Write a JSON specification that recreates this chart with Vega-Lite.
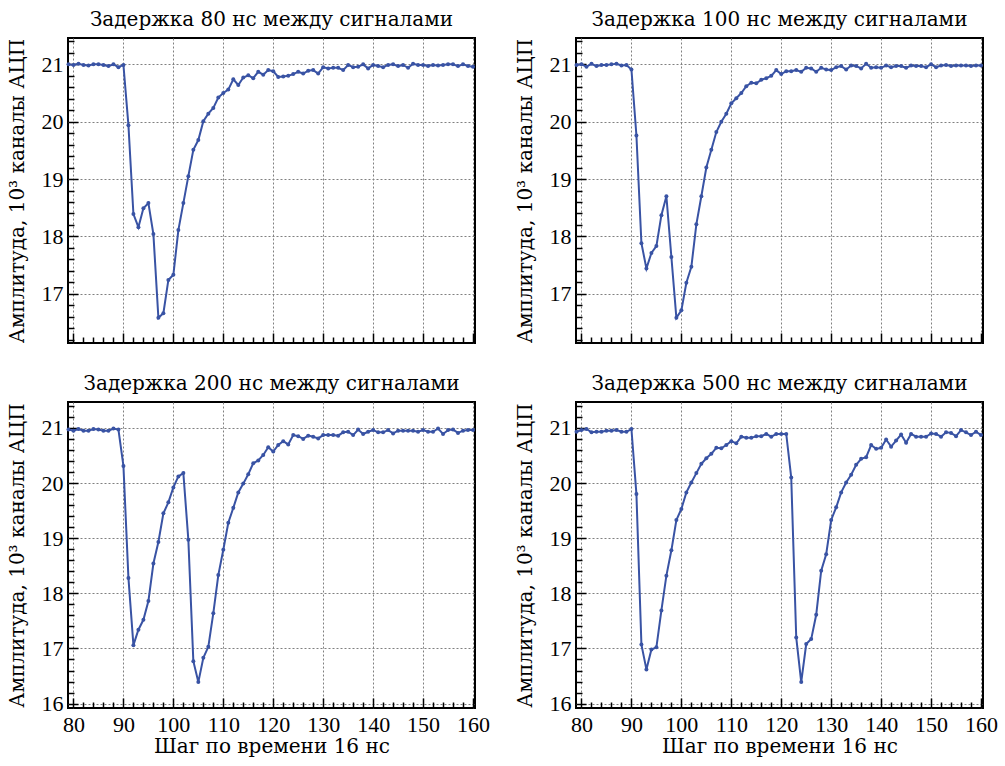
{
  "$schema": "https://vega.github.io/schema/vega-lite/v6.json",
  "background": "white",
  "padding": {"left": 6, "top": 9, "right": 4, "bottom": 5},
  "datasets": {
    "p80": [
      {"x":79,"y":21.00},{"x":80,"y":20.99},{"x":81,"y":21.01},{"x":82,"y":20.99},{"x":83,"y":20.98},{"x":84,"y":21.00},{"x":85,"y":21.00},{"x":86,"y":20.99},{"x":87,"y":20.97},{"x":88,"y":21.00},
      {"x":89,"y":20.95},{"x":90,"y":20.99},{"x":91,"y":19.94},{"x":92,"y":18.39},{"x":93,"y":18.16},{"x":94,"y":18.49},{"x":95,"y":18.58},{"x":96,"y":18.04},{"x":97,"y":16.58},{"x":98,"y":16.66},
      {"x":99,"y":17.24},{"x":100,"y":17.33},{"x":101,"y":18.11},{"x":102,"y":18.58},{"x":103,"y":19.05},{"x":104,"y":19.51},{"x":105,"y":19.68},{"x":106,"y":20.01},{"x":107,"y":20.14},{"x":108,"y":20.24},
      {"x":109,"y":20.42},{"x":110,"y":20.50},{"x":111,"y":20.56},{"x":112,"y":20.74},{"x":113,"y":20.64},{"x":114,"y":20.77},{"x":115,"y":20.81},{"x":116,"y":20.76},{"x":117,"y":20.87},{"x":118,"y":20.82},
      {"x":119,"y":20.90},{"x":120,"y":20.88},{"x":121,"y":20.78},{"x":122,"y":20.79},{"x":123,"y":20.80},{"x":124,"y":20.83},{"x":125,"y":20.87},{"x":126,"y":20.84},{"x":127,"y":20.89},{"x":128,"y":20.90},
      {"x":129,"y":20.84},{"x":130,"y":20.95},{"x":131,"y":20.93},{"x":132,"y":20.94},{"x":133,"y":20.94},{"x":134,"y":20.90},{"x":135,"y":20.99},{"x":136,"y":20.95},{"x":137,"y":20.96},{"x":138,"y":21.00},
      {"x":139,"y":20.93},{"x":140,"y":20.99},{"x":141,"y":20.97},{"x":142,"y":20.95},{"x":143,"y":20.99},{"x":144,"y":21.00},{"x":145,"y":20.97},{"x":146,"y":20.99},{"x":147,"y":20.94},{"x":148,"y":21.01},
      {"x":149,"y":20.99},{"x":150,"y":20.99},{"x":151,"y":20.97},{"x":152,"y":20.99},{"x":153,"y":20.98},{"x":154,"y":20.99},{"x":155,"y":21.00},{"x":156,"y":21.00},{"x":157,"y":20.97},{"x":158,"y":21.00},
      {"x":159,"y":20.97},{"x":160,"y":20.96}
    ],
    "p100": [
      {"x":79,"y":20.99},{"x":80,"y":21.00},{"x":81,"y":20.96},{"x":82,"y":21.01},{"x":83,"y":20.97},{"x":84,"y":20.99},{"x":85,"y":20.99},{"x":86,"y":21.00},{"x":87,"y":21.01},{"x":88,"y":20.98},
      {"x":89,"y":20.99},{"x":90,"y":20.91},{"x":91,"y":19.76},{"x":92,"y":17.88},{"x":93,"y":17.44},{"x":94,"y":17.71},{"x":95,"y":17.83},{"x":96,"y":18.37},{"x":97,"y":18.70},{"x":98,"y":17.64},
      {"x":99,"y":16.58},{"x":100,"y":16.71},{"x":101,"y":17.19},{"x":102,"y":17.47},{"x":103,"y":18.21},{"x":104,"y":18.70},{"x":105,"y":19.20},{"x":106,"y":19.51},{"x":107,"y":19.82},{"x":108,"y":20.00},
      {"x":109,"y":20.14},{"x":110,"y":20.32},{"x":111,"y":20.41},{"x":112,"y":20.50},{"x":113,"y":20.62},{"x":114,"y":20.68},{"x":115,"y":20.67},{"x":116,"y":20.73},{"x":117,"y":20.76},{"x":118,"y":20.80},
      {"x":119,"y":20.90},{"x":120,"y":20.83},{"x":121,"y":20.88},{"x":122,"y":20.88},{"x":123,"y":20.90},{"x":124,"y":20.87},{"x":125,"y":20.94},{"x":126,"y":20.93},{"x":127,"y":20.87},{"x":128,"y":20.94},
      {"x":129,"y":20.91},{"x":130,"y":20.90},{"x":131,"y":20.95},{"x":132,"y":20.97},{"x":133,"y":20.91},{"x":134,"y":20.98},{"x":135,"y":20.97},{"x":136,"y":20.93},{"x":137,"y":21.01},{"x":138,"y":20.94},
      {"x":139,"y":20.95},{"x":140,"y":20.94},{"x":141,"y":20.98},{"x":142,"y":20.95},{"x":143,"y":20.97},{"x":144,"y":20.97},{"x":145,"y":20.94},{"x":146,"y":20.98},{"x":147,"y":20.97},{"x":148,"y":20.97},
      {"x":149,"y":20.95},{"x":150,"y":21.00},{"x":151,"y":20.95},{"x":152,"y":20.98},{"x":153,"y":20.99},{"x":154,"y":20.97},{"x":155,"y":20.98},{"x":156,"y":20.98},{"x":157,"y":20.98},{"x":158,"y":20.97},
      {"x":159,"y":20.98},{"x":160,"y":20.98}
    ],
    "p200": [
      {"x":79,"y":20.97},{"x":80,"y":20.95},{"x":81,"y":20.98},{"x":82,"y":20.95},{"x":83,"y":20.95},{"x":84,"y":20.98},{"x":85,"y":20.97},{"x":86,"y":20.95},{"x":87,"y":20.95},{"x":88,"y":20.99},
      {"x":89,"y":20.97},{"x":90,"y":20.31},{"x":91,"y":18.28},{"x":92,"y":17.06},{"x":93,"y":17.34},{"x":94,"y":17.52},{"x":95,"y":17.86},{"x":96,"y":18.54},{"x":97,"y":18.93},{"x":98,"y":19.45},
      {"x":99,"y":19.65},{"x":100,"y":19.92},{"x":101,"y":20.12},{"x":102,"y":20.18},{"x":103,"y":18.97},{"x":104,"y":16.77},{"x":105,"y":16.39},{"x":106,"y":16.83},{"x":107,"y":17.03},{"x":108,"y":17.64},
      {"x":109,"y":18.33},{"x":110,"y":18.79},{"x":111,"y":19.28},{"x":112,"y":19.55},{"x":113,"y":19.83},{"x":114,"y":19.99},{"x":115,"y":20.16},{"x":116,"y":20.36},{"x":117,"y":20.41},{"x":118,"y":20.51},
      {"x":119,"y":20.65},{"x":120,"y":20.57},{"x":121,"y":20.69},{"x":122,"y":20.76},{"x":123,"y":20.70},{"x":124,"y":20.87},{"x":125,"y":20.85},{"x":126,"y":20.80},{"x":127,"y":20.86},{"x":128,"y":20.84},
      {"x":129,"y":20.81},{"x":130,"y":20.87},{"x":131,"y":20.87},{"x":132,"y":20.87},{"x":133,"y":20.86},{"x":134,"y":20.92},{"x":135,"y":20.93},{"x":136,"y":20.87},{"x":137,"y":20.97},{"x":138,"y":20.89},
      {"x":139,"y":20.93},{"x":140,"y":20.96},{"x":141,"y":20.92},{"x":142,"y":20.92},{"x":143,"y":20.96},{"x":144,"y":20.90},{"x":145,"y":20.95},{"x":146,"y":20.95},{"x":147,"y":20.95},{"x":148,"y":20.95},
      {"x":149,"y":20.93},{"x":150,"y":20.96},{"x":151,"y":20.93},{"x":152,"y":20.93},{"x":153,"y":20.99},{"x":154,"y":20.89},{"x":155,"y":20.96},{"x":156,"y":20.97},{"x":157,"y":20.91},{"x":158,"y":20.95},
      {"x":159,"y":20.96},{"x":160,"y":20.96}
    ],
    "p500": [
      {"x":79,"y":20.93},{"x":80,"y":20.96},{"x":81,"y":20.98},{"x":82,"y":20.92},{"x":83,"y":20.93},{"x":84,"y":20.93},{"x":85,"y":20.95},{"x":86,"y":20.95},{"x":87,"y":20.96},{"x":88,"y":20.93},
      {"x":89,"y":20.93},{"x":90,"y":20.98},{"x":91,"y":19.80},{"x":92,"y":17.07},{"x":93,"y":16.62},{"x":94,"y":16.98},{"x":95,"y":17.02},{"x":96,"y":17.69},{"x":97,"y":18.32},{"x":98,"y":18.78},
      {"x":99,"y":19.33},{"x":100,"y":19.53},{"x":101,"y":19.83},{"x":102,"y":20.01},{"x":103,"y":20.18},{"x":104,"y":20.35},{"x":105,"y":20.45},{"x":106,"y":20.53},{"x":107,"y":20.64},{"x":108,"y":20.63},
      {"x":109,"y":20.69},{"x":110,"y":20.76},{"x":111,"y":20.72},{"x":112,"y":20.84},{"x":113,"y":20.82},{"x":114,"y":20.82},{"x":115,"y":20.85},{"x":116,"y":20.85},{"x":117,"y":20.89},{"x":118,"y":20.84},
      {"x":119,"y":20.89},{"x":120,"y":20.89},{"x":121,"y":20.89},{"x":122,"y":20.10},{"x":123,"y":17.20},{"x":124,"y":16.39},{"x":125,"y":17.08},{"x":126,"y":17.17},{"x":127,"y":17.61},{"x":128,"y":18.41},
      {"x":129,"y":18.71},{"x":130,"y":19.33},{"x":131,"y":19.56},{"x":132,"y":19.83},{"x":133,"y":20.01},{"x":134,"y":20.15},{"x":135,"y":20.33},{"x":136,"y":20.44},{"x":137,"y":20.47},{"x":138,"y":20.69},
      {"x":139,"y":20.62},{"x":140,"y":20.64},{"x":141,"y":20.79},{"x":142,"y":20.66},{"x":143,"y":20.77},{"x":144,"y":20.88},{"x":145,"y":20.73},{"x":146,"y":20.89},{"x":147,"y":20.84},{"x":148,"y":20.84},
      {"x":149,"y":20.84},{"x":150,"y":20.90},{"x":151,"y":20.89},{"x":152,"y":20.84},{"x":153,"y":20.92},{"x":154,"y":20.91},{"x":155,"y":20.85},{"x":156,"y":20.96},{"x":157,"y":20.92},{"x":158,"y":20.87},
      {"x":159,"y":20.93},{"x":160,"y":20.87}
    ]
  },
  "columns": 2,
  "spacing": {"row": 59, "column": 101},
  "bounds": "flush",
  "concat": [
    {
      "data": {"name": "p80"},
      "title": {"text": "Задержка 80 нс между сигналами"},
      "width": 407, "height": 305,
      "mark": {"type": "line", "color": "#3953a4", "strokeWidth": 2, "point": {"filled": true, "size": 16, "color": "#3953a4"}},
      "encoding": {
        "x": {"field": "x", "type": "quantitative", "scale": {"domain": [78.9, 160.4], "nice": false, "zero": false},
              "axis": {"title": null, "labels": false, "values": [80,82,84,86,88,90,92,94,96,98,100,102,104,106,108,110,112,114,116,118,120,122,124,126,128,130,132,134,136,138,140,142,144,146,148,150,152,154,156,158,160],
                       "tickSize": {"condition": {"test": "datum.value % 10 === 0", "value": -10}, "value": -6},
                       "gridOpacity": {"condition": {"test": "datum.value % 10 === 0", "value": 1}, "value": 0}}},
        "y": {"field": "y", "type": "quantitative", "scale": {"domain": [16.14, 21.46], "nice": false, "zero": false},
              "axis": {"title": "Амплитуда, 10³ каналы АЦП", "titlePadding": 14, "format": ".0f", "labelPadding": 15, "values": [16.2,16.4,16.6,16.8,17,17.2,17.4,17.6,17.8,18,18.2,18.4,18.6,18.8,19,19.2,19.4,19.6,19.8,20,20.2,20.4,20.6,20.8,21,21.2,21.4],
                       "labelExpr": "abs(datum.value - round(datum.value)) < 0.01 ? datum.label : ''",
                       "tickSize": {"condition": {"test": "abs(datum.value - round(datum.value)) < 0.01", "value": -10}, "value": -6},
                       "gridOpacity": {"condition": {"test": "abs(datum.value - round(datum.value)) < 0.01", "value": 1}, "value": 0}}}
      }
    },
    {
      "data": {"name": "p100"},
      "title": {"text": "Задержка 100 нс между сигналами"},
      "width": 407, "height": 305,
      "mark": {"type": "line", "color": "#3953a4", "strokeWidth": 2, "point": {"filled": true, "size": 16, "color": "#3953a4"}},
      "encoding": {
        "x": {"field": "x", "type": "quantitative", "scale": {"domain": [78.9, 160.4], "nice": false, "zero": false},
              "axis": {"title": null, "labels": false, "values": [80,82,84,86,88,90,92,94,96,98,100,102,104,106,108,110,112,114,116,118,120,122,124,126,128,130,132,134,136,138,140,142,144,146,148,150,152,154,156,158,160],
                       "tickSize": {"condition": {"test": "datum.value % 10 === 0", "value": -10}, "value": -6},
                       "gridOpacity": {"condition": {"test": "datum.value % 10 === 0", "value": 1}, "value": 0}}},
        "y": {"field": "y", "type": "quantitative", "scale": {"domain": [16.14, 21.46], "nice": false, "zero": false},
              "axis": {"title": "Амплитуда, 10³ каналы АЦП", "titlePadding": 14, "format": ".0f", "labelPadding": 15, "values": [16.2,16.4,16.6,16.8,17,17.2,17.4,17.6,17.8,18,18.2,18.4,18.6,18.8,19,19.2,19.4,19.6,19.8,20,20.2,20.4,20.6,20.8,21,21.2,21.4],
                       "labelExpr": "abs(datum.value - round(datum.value)) < 0.01 ? datum.label : ''",
                       "tickSize": {"condition": {"test": "abs(datum.value - round(datum.value)) < 0.01", "value": -10}, "value": -6},
                       "gridOpacity": {"condition": {"test": "abs(datum.value - round(datum.value)) < 0.01", "value": 1}, "value": 0}}}
      }
    },
    {
      "data": {"name": "p200"},
      "title": {"text": "Задержка 200 нс между сигналами"},
      "width": 407, "height": 306,
      "mark": {"type": "line", "color": "#3953a4", "strokeWidth": 2, "point": {"filled": true, "size": 16, "color": "#3953a4"}},
      "encoding": {
        "x": {"field": "x", "type": "quantitative", "scale": {"domain": [78.9, 160.4], "nice": false, "zero": false},
              "axis": {"title": "Шаг по времени 16 нс", "titlePadding": 1, "format": ".0f", "labelPadding": 16, "values": [80,82,84,86,88,90,92,94,96,98,100,102,104,106,108,110,112,114,116,118,120,122,124,126,128,130,132,134,136,138,140,142,144,146,148,150,152,154,156,158,160],
                       "labelExpr": "datum.value % 10 === 0 ? datum.label : ''",
                       "tickSize": {"condition": {"test": "datum.value % 10 === 0", "value": -10}, "value": -6},
                       "gridOpacity": {"condition": {"test": "datum.value % 10 === 0", "value": 1}, "value": 0}}},
        "y": {"field": "y", "type": "quantitative", "scale": {"domain": [15.92, 21.47], "nice": false, "zero": false},
              "axis": {"title": "Амплитуда, 10³ каналы АЦП", "titlePadding": 14, "format": ".0f", "labelPadding": 15, "values": [16,16.2,16.4,16.6,16.8,17,17.2,17.4,17.6,17.8,18,18.2,18.4,18.6,18.8,19,19.2,19.4,19.6,19.8,20,20.2,20.4,20.6,20.8,21,21.2,21.4],
                       "labelExpr": "abs(datum.value - round(datum.value)) < 0.01 ? datum.label : ''",
                       "tickSize": {"condition": {"test": "abs(datum.value - round(datum.value)) < 0.01", "value": -10}, "value": -6},
                       "gridOpacity": {"condition": {"test": "abs(datum.value - round(datum.value)) < 0.01", "value": 1}, "value": 0}}}
      }
    },
    {
      "data": {"name": "p500"},
      "title": {"text": "Задержка 500 нс между сигналами"},
      "width": 407, "height": 306,
      "mark": {"type": "line", "color": "#3953a4", "strokeWidth": 2, "point": {"filled": true, "size": 16, "color": "#3953a4"}},
      "encoding": {
        "x": {"field": "x", "type": "quantitative", "scale": {"domain": [78.9, 160.4], "nice": false, "zero": false},
              "axis": {"title": "Шаг по времени 16 нс", "titlePadding": 1, "format": ".0f", "labelPadding": 16, "values": [80,82,84,86,88,90,92,94,96,98,100,102,104,106,108,110,112,114,116,118,120,122,124,126,128,130,132,134,136,138,140,142,144,146,148,150,152,154,156,158,160],
                       "labelExpr": "datum.value % 10 === 0 ? datum.label : ''",
                       "tickSize": {"condition": {"test": "datum.value % 10 === 0", "value": -10}, "value": -6},
                       "gridOpacity": {"condition": {"test": "datum.value % 10 === 0", "value": 1}, "value": 0}}},
        "y": {"field": "y", "type": "quantitative", "scale": {"domain": [15.92, 21.47], "nice": false, "zero": false},
              "axis": {"title": "Амплитуда, 10³ каналы АЦП", "titlePadding": 14, "format": ".0f", "labelPadding": 15, "values": [16,16.2,16.4,16.6,16.8,17,17.2,17.4,17.6,17.8,18,18.2,18.4,18.6,18.8,19,19.2,19.4,19.6,19.8,20,20.2,20.4,20.6,20.8,21,21.2,21.4],
                       "labelExpr": "abs(datum.value - round(datum.value)) < 0.01 ? datum.label : ''",
                       "tickSize": {"condition": {"test": "abs(datum.value - round(datum.value)) < 0.01", "value": -10}, "value": -6},
                       "gridOpacity": {"condition": {"test": "abs(datum.value - round(datum.value)) < 0.01", "value": 1}, "value": 0}}}
      }
    }
  ],
  "config": {
    "view": {"stroke": "black", "strokeWidth": 2},
    "title": {"font": "DejaVu Serif", "fontSize": 20, "fontWeight": "normal", "color": "black", "offset": 8, "anchor": "middle", "frame": "group"},
    "axis": {
      "domain": false,
      "tickColor": "black", "tickWidth": 1.5,
      "grid": true, "gridColor": "#808080", "gridDash": [2, 2], "gridWidth": 1,
      "labelFont": "Liberation Serif", "labelFontSize": 22, "labelColor": "black",
      "titleFont": "DejaVu Serif", "titleFontSize": 20, "titleFontWeight": "normal", "titleColor": "black", "titlePadding": 8
    }
  }
}
